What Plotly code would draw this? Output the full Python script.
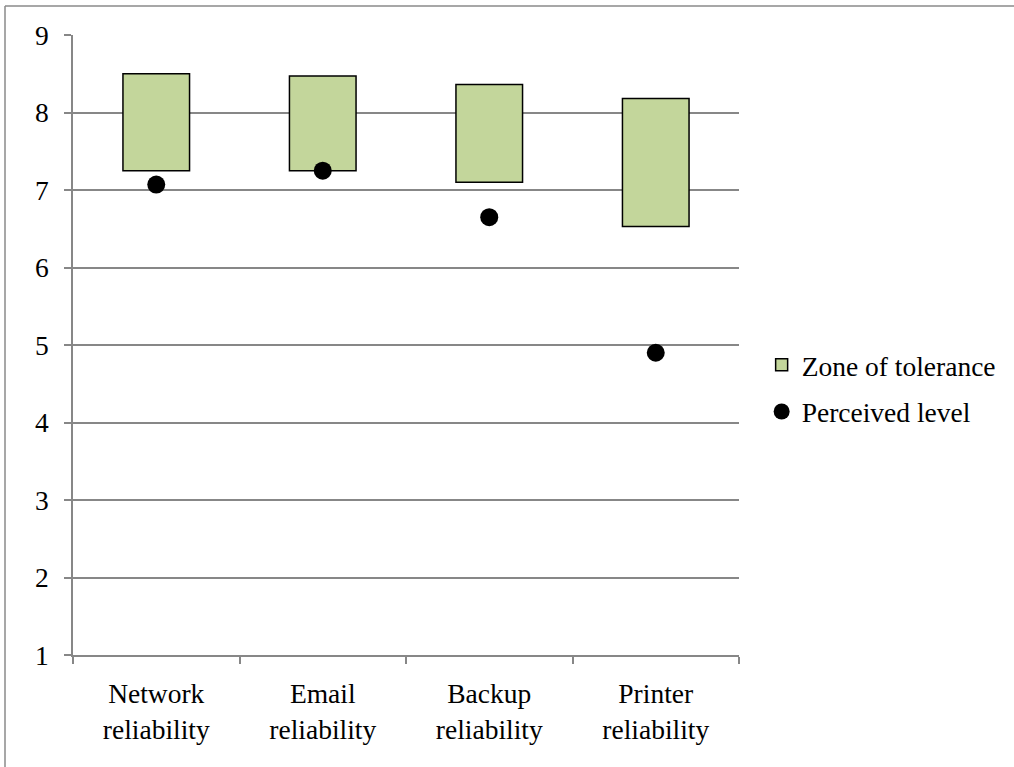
import plotly.graph_objects as go

categories = ["Network<br>reliability", "Email<br>reliability", "Backup<br>reliability", "Printer<br>reliability"]
zone_low = [7.25, 7.25, 7.10, 6.53]
zone_high = [8.50, 8.47, 8.36, 8.18]
perceived = [7.07, 7.25, 6.65, 4.90]
y_ticks = [1, 2, 3, 4, 5, 6, 7, 8, 9]

FONT = "Liberation Serif"
GRID = "#878787"

fig = go.Figure()
fig.add_trace(go.Bar(
    x=categories,
    y=[h - l for h, l in zip(zone_high, zone_low)],
    base=zone_low,
    width=0.4,
    name="Zone of tolerance",
    marker=dict(color="#C3D69B", line=dict(color="black", width=1.5)),
    legendgroup="a",
))
fig.add_trace(go.Scatter(
    x=categories,
    y=perceived,
    mode="markers",
    name="Perceived level",
    marker=dict(color="black", size=18),
    legendgroup="b",
))

fig.update_layout(
    width=1014, height=767,
    margin=dict(l=73, r=275, t=35, b=112),
    paper_bgcolor="white", plot_bgcolor="white",
    font=dict(family=FONT, size=27.5, color="black"),
    showlegend=True,
    legend=dict(x=1.034, y=0.43, xanchor="left", yanchor="middle",
                font=dict(size=27.5), tracegroupgap=8, traceorder="grouped",
                itemwidth=30),
    xaxis=dict(type="category", showgrid=False, showline=True, linecolor=GRID,
               linewidth=1.5, ticks="outside", ticklen=7, tickcolor=GRID,
               tickwidth=1.5, tickson="boundaries", ticklabelstandoff=13),
    yaxis=dict(range=[1, 9], tickvals=y_ticks, showgrid=True, gridcolor=GRID,
               gridwidth=1.5, showline=True, linecolor=GRID, linewidth=1.5,
               ticks="outside", ticklen=7, tickcolor=GRID, tickwidth=1.5,
               zeroline=False, ticklabelstandoff=10),
    shapes=[
        dict(type="line", xref="paper", yref="paper",
             x0=(5 - 73) / 666, x1=1.5, y0=(655 - 6) / 620, y1=(655 - 6) / 620,
             line=dict(color="#8a8a8a", width=1.5)),
        dict(type="line", xref="paper", yref="paper",
             x0=(5 - 73) / 666, x1=(5 - 73) / 666, y0=(655 - 6) / 620, y1=-0.5,
             line=dict(color="#8a8a8a", width=1.5)),
    ],
)

fig.write_html("out.html")
